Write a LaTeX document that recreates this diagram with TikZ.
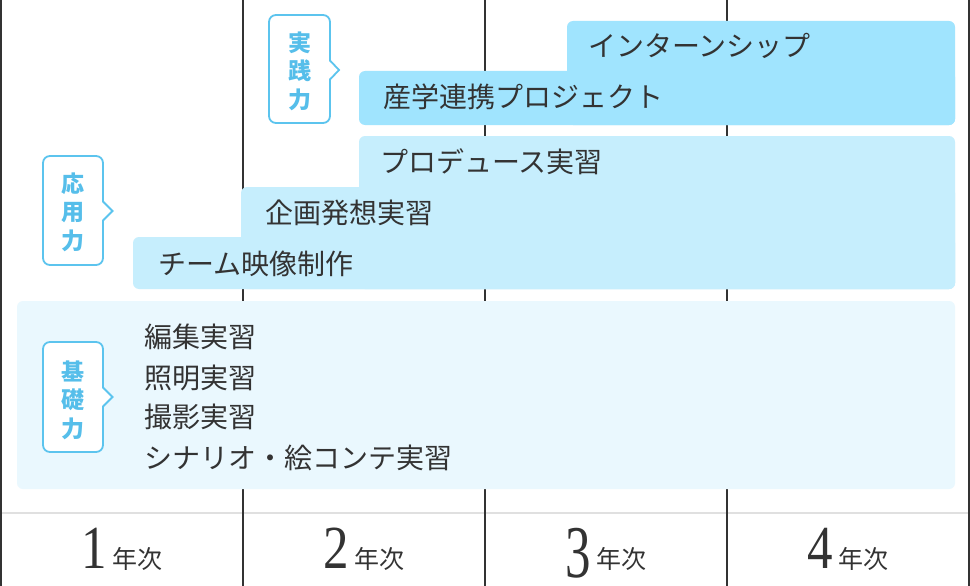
\documentclass[tikz,border=0pt]{standalone}
\usepackage{fontspec}
\usepackage{graphicx}
\setmainfont{Noto Sans CJK JP}
\newfontfamily\yearserif{Liberation Serif}
\definecolor{darkbox}{HTML}{A0E4FE}
\definecolor{midbox}{HTML}{C6EEFD}
\definecolor{lightbox}{HTML}{EAF8FE}
\definecolor{callblue}{HTML}{5CC4EE}
\definecolor{calltext}{HTML}{56BEEA}
\definecolor{ink}{HTML}{333333}
\definecolor{gridgray}{HTML}{E0E0E0}
\newcommand{\yeardigit}[1]{{\yearserif\fontsize{60}{60}\selectfont\scalebox{0.85}[1.02]{#1}}}
\newcommand{\yearword}{{\fontsize{25}{25}\selectfont 年次}}
\tikzset{
  gridline/.style={draw=ink, line width=2pt},
  boxA/.style={fill=darkbox, rounded corners=6pt},
  boxB/.style={fill=midbox, rounded corners=6pt},
  boxC/.style={fill=lightbox, rounded corners=6pt},
  course/.style={anchor=west, inner sep=0pt, text=ink, font=\fontsize{28}{28}\selectfont},
  callframe/.style={draw=callblue, line width=1.8pt, fill=white, rounded corners=7pt},
  calllabel/.style={align=center, inner sep=0pt, text=calltext, font=\bfseries\fontsize{23}{28.5}\selectfont},
  yearlabel/.style={anchor=base, inner sep=0pt, text=ink},
}
\begin{document}
\begin{tikzpicture}[x=1pt,y=-1pt]
\useasboundingbox (0,0) rectangle (970,586);
\fill[white] (0,0) rectangle (970,586);
% grid
\draw[draw=gridgray, line width=2pt] (0,513) -- (970,513);
\coordinate (l0t) at (1.2,0); \coordinate (l0b) at (1.2,586);
\coordinate (l1t) at (243,0); \coordinate (l1b) at (243,586);
\coordinate (l2t) at (485,0); \coordinate (l2b) at (485,586);
\coordinate (l3t) at (727,0); \coordinate (l3b) at (727,586);
\coordinate (l4t) at (968.8,0); \coordinate (l4b) at (968.8,586);
\draw[gridline, line width=2.5pt] (l0t) -- (l0b);
\draw[gridline] (l1t) -- (l1b);
\draw[gridline] (l2t) -- (l2b);
\draw[gridline] (l3t) -- (l3b);
\draw[gridline, line width=2.5pt] (l4t) -- (l4b);
% practice boxes
\path[boxA] (567,21) rectangle (955,125);
\path[boxA] (359,71) rectangle (955,125);
% applied boxes
\path[boxB] (359,136) rectangle (955,289);
\path[boxB] (241,187) rectangle (955,289);
\path[boxB] (133,237) rectangle (955,289);
% basic box
\path[boxC] (17,301) rectangle (955,489);
% course texts
\node[course] (intern) at (588,46) {インターンシップ};
\node[course] (sangaku) at (383,97) {産学連携プロジェクト};
\node[course] (produce) at (380,162) {プロデュース実習};
\node[course] (kikaku) at (265,213) {企画発想実習};
\node[course] (team) at (158,264) {チーム映像制作};
\node[course] (hensyu) at (144,337) {編集実習};
\node[course] (syomei) at (144,378) {照明実習};
\node[course] (satsuei) at (144,417) {撮影実習};
\node[course] (scenario) at (144,458) {シナリオ・絵コンテ実習};
% callouts
\path[callframe] (269,15) rectangle (330,123);
\fill[white] (328,60) -- (339,70) -- (328,80) -- cycle;
\draw[callblue, line width=1.8pt, line join=miter] (330,60.5) -- (339,70) -- (330,79.5);
\node[calllabel] (jissen) at (299.5,71) {実\\践\\力};
\path[callframe] (43,156) rectangle (103,265);
\fill[white] (101,201) -- (113,211) -- (101,221) -- cycle;
\draw[callblue, line width=1.8pt, line join=miter] (103,201.5) -- (112.5,211) -- (103,220.5);
\node[calllabel] (oyo) at (73,212) {応\\用\\力};
\path[callframe] (43,342) rectangle (103,452);
\fill[white] (101,387) -- (113,397) -- (101,407) -- cycle;
\draw[callblue, line width=1.8pt, line join=miter] (103,387.5) -- (112.5,397) -- (103,406.5);
\node[calllabel] (kiso) at (73,400) {基\\礎\\力};
% years
\node[yearlabel] (y1) at (122,568) {\yeardigit{1}\hspace{6pt}\yearword};
\node[yearlabel] (y2) at (364,568) {\yeardigit{2}\hspace{6pt}\yearword};
\node[yearlabel] (y3) at (606,568) {\raisebox{-9pt}{{\yearserif\fontsize{60}{60}\selectfont\scalebox{0.85}[1.24]{3}}}\hspace{6pt}\yearword};
\node[yearlabel] (y4) at (848,568) {\yeardigit{4}\hspace{6pt}\yearword};
\end{tikzpicture}
\end{document}
